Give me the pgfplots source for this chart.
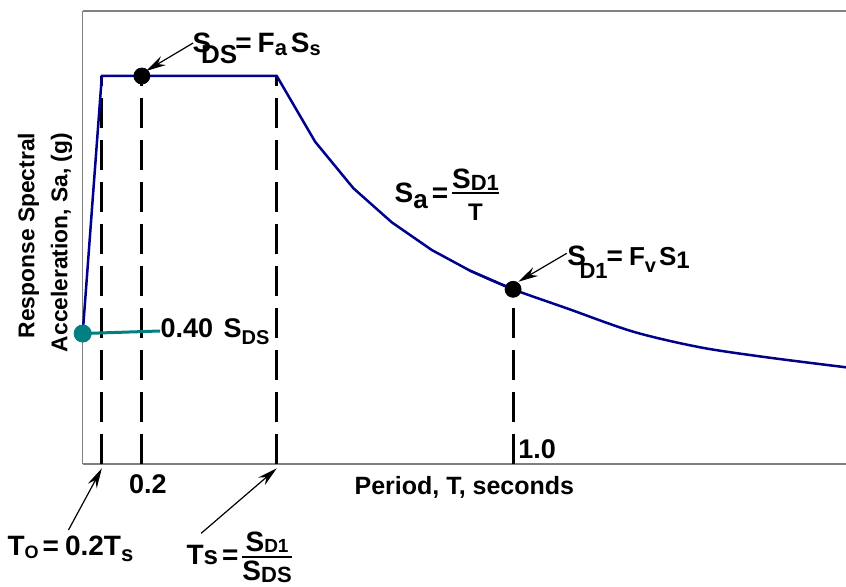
\documentclass[border=0pt]{standalone}
\usepackage{fontspec}
\setmainfont{Liberation Sans}
\usepackage{pgfplots}
\pgfplotsset{compat=1.18}
\usetikzlibrary{arrows.meta}

\definecolor{specblue}{RGB}{0,0,140}
\definecolor{specteal}{RGB}{0,128,128}
\definecolor{axisgray}{RGB}{128,128,128}

% lowered sub-text: #1 drop, #2 font size (pt), #3 text
\newcommand{\dn}[3]{\raisebox{-#1}{\fontsize{#2}{#2}\selectfont #3}}
% built-up fraction: #1 numerator, #2 denominator, #3 gap above bar, #4 gap below bar
\newcommand{\fr}[4]{$\vcenter{\offinterlineskip\halign{\hfil##\hfil\cr\hbox{#1}\cr\noalign{\kern#3\hrule height 1pt\kern#4}\hbox{#2}\cr}}$}

\begin{document}
\begin{tikzpicture}
\useasboundingbox (-41.35pt,-61pt) rectangle (381.65pt,232pt);
\begin{axis}[
  at={(0,0)}, anchor=south west,
  scale only axis, width=381.65pt, height=226.5pt,
  xmin=0.0725, xmax=1.7175, ymin=0.096, ymax=1.1514,
  axis lines=left,
  axis line style={-, draw=axisgray, line width=0.75pt},
  clip=false,
  xtick={0.2}, xticklabels={0.2}, ytick=\empty,
  major tick length=0pt,
  xticklabel style={font=\fontsize{13.5}{13.5}\selectfont\bfseries, anchor=center, yshift=-10pt, xshift=3pt},
  xlabel={Period, T, seconds},
  xlabel style={font=\fontsize{12.5}{12.5}\selectfont\bfseries, at={(axis description cs:0.5,-0.0508)}, anchor=center},
  ylabel={Response Spectral\\Acceleration, Sa, (g)},
  ylabel style={font=\fontsize{11.4}{16.5}\selectfont\bfseries, align=right, at={(axis description cs:-0.0494,0.489)}, anchor=center},
]
% top border of the frame (the right side stays open)
\draw[axisgray, line width=0.75pt] (rel axis cs:0,1) -- (rel axis cs:1,1);

% dashed period markers
\addplot[black, line width=1.5pt, dash pattern=on 15pt off 6pt] coordinates {(0.1138,0.096) (0.1138,1.0)};
\addplot[black, line width=1.5pt, dash pattern=on 15pt off 6pt] coordinates {(0.2,0.096) (0.2,1.0)};
\addplot[black, line width=1.5pt, dash pattern=on 15pt off 6pt] coordinates {(0.4908,0.096) (0.4908,1.0)};
\addplot[black, line width=1.5pt, dash pattern=on 15pt off 6pt] coordinates {(1.0,0.096) (1.0,0.503)};

% design response spectrum: ramp, plateau and descending branch up to T = 1.0
\addplot[specblue, line width=1.25pt] coordinates {
  (0.0725,0.4) (0.1138,1.0) (0.4908,1.0) (0.5734,0.8469) (0.6559,0.7384)
  (0.7386,0.6591) (0.8248,0.5946) (0.9073,0.5464) (1.0,0.503)};
% long-period branch
\addplot[specblue, line width=1.25pt, smooth, tension=0.5] coordinates {
  (0.9073,0.5464) (1.0,0.503) (1.1157,0.4588) (1.2592,0.4042) (1.4029,0.3679)
  (1.5466,0.3446) (1.7175,0.3213)};

% leader to the 0.40 S_DS label
\addplot[specteal, line width=1.5pt] coordinates {(0.0725,0.4) (0.2395,0.4059)};

% key points
\addplot[only marks, mark=*, mark size=4pt, black] coordinates {(0.2,1.0) (1.0,0.503)};
\addplot[only marks, mark=*, mark size=4.3pt, specteal, mark options={draw=specteal}] coordinates {(0.0725,0.4)};

% annotation arrows
\addplot[black, line width=0.6pt, -{Stealth[length=10pt,width=5pt]}] coordinates {(0.3105,1.0769) (0.2092,1.0117)};
\addplot[black, line width=0.6pt, -{Stealth[length=10pt,width=5pt]}] coordinates {(1.1157,0.5869) (1.0114,0.5207)};
\addplot[black, line width=0.6pt, -{Stealth[length=10pt,width=5pt]}] coordinates {(0.0418,-0.0578) (0.1138,0.086)};
\addplot[black, line width=0.6pt, -{Stealth[length=10pt,width=5pt]}] coordinates {(0.3277,-0.0655) (0.4908,0.086)};

% labels
\node[anchor=base west, inner sep=0pt, font=\fontsize{14}{14}\selectfont\bfseries] at (axis cs:0.3083,1.0536)
  {S\kern-5pt\dn{5.5pt}{13}{DS}\kern-1pt=\kern3pt F\dn{1.5pt}{11}{a}\kern2pt S\dn{1.5pt}{10}{s}};
\node[anchor=base west, inner sep=0pt, font=\fontsize{13.5}{13.5}\selectfont\bfseries] at (axis cs:0.2394,0.3896)
  {0.40\kern1.5pt\ S\dn{3.5pt}{10}{DS}};
\node[anchor=base west, inner sep=0pt, font=\fontsize{14}{14}\selectfont\bfseries] at (axis cs:0.7440,0.7064)
  {S\dn{3pt}{13}{a}\kern2pt=\kern2pt\fr{S\dn{1pt}{11}{D1}}{\fontsize{12}{12}\selectfont T}{1pt}{5pt}};
\node[anchor=base west, inner sep=0pt, font=\fontsize{14}{14}\selectfont\bfseries] at (axis cs:1.1164,0.5596)
  {S\kern-3.3pt\dn{6.5pt}{11}{D1}\kern-0.5pt=\kern3pt{\fontsize{13}{13}\selectfont F\dn{3.5pt}{10}{v}\kern1.5pt S\dn{1.5pt}{12}{1}}};
\node[anchor=base west, inner sep=0pt, font=\fontsize{13.5}{13.5}\selectfont\bfseries] at (axis cs:1.0107,0.11) {1.0};
\node[anchor=base west, inner sep=0pt, font=\fontsize{14}{14}\selectfont\bfseries] at (axis cs:-0.0903,-0.116)
  {T\dn{1.5pt}{9}{O}\kern2pt=\kern3pt 0.2T\dn{3pt}{11}{s}};
\node[anchor=base west, inner sep=0pt, font=\fontsize{14}{14}\selectfont\bfseries] at (axis cs:0.2954,-0.138)
  {T{\fontsize{13}{13}\selectfont s}\kern2pt=\kern2pt\fr{S\dn{0.5pt}{9.5}{D1}}{S\dn{1pt}{11}{DS}}{2pt}{1.5pt}};
\end{axis}
\end{tikzpicture}
\end{document}
